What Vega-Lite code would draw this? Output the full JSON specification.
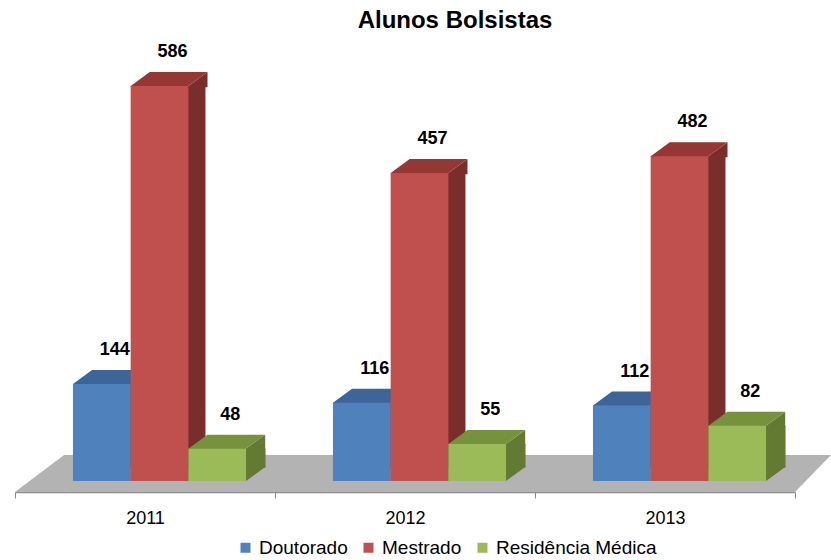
{
  "$schema": "https://vega.github.io/schema/vega-lite/v6.json",
  "width": 780,
  "height": 440,
  "autosize": {"type": "none"},
  "padding": {"left": 15, "top": 52, "right": 36, "bottom": 68},
  "background": "white",
  "config": {"view": {"stroke": null}, "font": "Liberation Sans"},
  "title": {"text": "Alunos Bolsistas", "fontSize": 24, "fontWeight": "bold", "font": "Liberation Sans", "color": "black", "anchor": "middle", "dx": 50, "offset": 10},
  "data": {"values": [
    {"year": "2011", "serie": "Doutorado", "value": 144},
    {"year": "2011", "serie": "Mestrado", "value": 586},
    {"year": "2011", "serie": "Residência Médica", "value": 48},
    {"year": "2012", "serie": "Doutorado", "value": 116},
    {"year": "2012", "serie": "Mestrado", "value": 457},
    {"year": "2012", "serie": "Residência Médica", "value": 55},
    {"year": "2013", "serie": "Doutorado", "value": 112},
    {"year": "2013", "serie": "Mestrado", "value": 482},
    {"year": "2013", "serie": "Residência Médica", "value": 82}
  ]},
  "resolve": {"scale": {"color": "independent", "xOffset": "independent"}},
  "layer": [
    {
      "data": {"values": [{"floor": "f"}]},
      "mark": {"type": "point", "shape": "M-0.975,0L0.975,0L1.065,-0.0925L-0.8525,-0.0925Z", "size": 640000, "filled": true, "opacity": 1, "strokeWidth": 0, "color": "#b3b3b3"},
      "encoding": {
        "y": {"datum": -16.32, "type": "quantitative", "scale": {"domain": [-16.32, 636.5], "nice": false, "zero": false}, "axis": null}
      }
    },
    {
      "mark": {"type": "bar", "y2Offset": -13.5},
      "encoding": {
        "x": {"field": "year", "type": "nominal", "scale": {"type": "band", "paddingInner": 0, "paddingOuter": 0},
              "axis": {"title": null, "labelAngle": 0, "labelFontSize": 18, "labelColor": "black", "domainColor": "#8c8c8c", "domainWidth": 1.5, "tickColor": "#8c8c8c", "tickBand": "extent", "tickSize": 6, "labelPadding": 11}},
        "xOffset": {"field": "serie", "type": "nominal", "sort": ["Doutorado", "Mestrado", "Residência Médica"], "scale": {"type": "band", "paddingInner": 0.6707, "paddingOuter": 1.0884, "align": 0.9212}},
        "y": {"field": "value", "type": "quantitative"},
        "y2": {"datum": 0},
        "color": {"field": "serie", "type": "nominal", "scale": {"domain": ["Doutorado", "Mestrado", "Residência Médica"], "range": ["#35588A", "#7A2E2C", "#627A31"]}, "legend": null}
      }
    },
    {
      "mark": {"type": "point", "shape": "M0.72,0L0.72,-0.375L1.2,-0.375L1.2,-0.35Z", "size": 6400, "filled": true, "opacity": 1, "strokeWidth": 0},
      "encoding": {
        "x": {"field": "year", "type": "nominal"},
        "xOffset": {"field": "serie", "type": "nominal", "sort": ["Doutorado", "Mestrado", "Residência Médica"], "scale": {"type": "band", "paddingInner": 0, "paddingOuter": 0.753, "align": 0.667}},
        "y": {"datum": 0, "type": "quantitative"},
        "color": {"field": "serie", "type": "nominal", "scale": {"domain": ["Doutorado", "Mestrado", "Residência Médica"], "range": ["#35588A", "#7A2E2C", "#627A31"]}, "legend": null}
      }
    },
    {
      "mark": {"type": "point", "shape": "M0.72,0.03L0.72,0L1.2,-0.35L1.2,0.03Z", "size": 6400, "filled": true, "opacity": 1, "strokeWidth": 0},
      "encoding": {
        "x": {"field": "year", "type": "nominal"},
        "xOffset": {"field": "serie", "type": "nominal", "sort": ["Doutorado", "Mestrado", "Residência Médica"], "scale": {"type": "band", "paddingInner": 0, "paddingOuter": 0.753, "align": 0.667}},
        "y": {"field": "value", "type": "quantitative"},
        "color": {"field": "serie", "type": "nominal", "scale": {"domain": ["Doutorado", "Mestrado", "Residência Médica"], "range": ["#35588A", "#7A2E2C", "#627A31"]}, "legend": null}
      }
    },
    {
      "mark": {"type": "point", "shape": "M-0.72,0.02L0.72,0.02L0.72,0L1.2,-0.35L-0.245,-0.35L-0.72,0Z", "size": 6400, "filled": true, "opacity": 1, "strokeWidth": 0},
      "encoding": {
        "x": {"field": "year", "type": "nominal"},
        "xOffset": {"field": "serie", "type": "nominal", "sort": ["Doutorado", "Mestrado", "Residência Médica"], "scale": {"type": "band", "paddingInner": 0, "paddingOuter": 0.753, "align": 0.667}},
        "y": {"field": "value", "type": "quantitative"},
        "color": {"field": "serie", "type": "nominal", "scale": {"domain": ["Doutorado", "Mestrado", "Residência Médica"], "range": ["#3C6599", "#953735", "#76923C"]}, "legend": null}
      }
    },
    {
      "mark": {"type": "bar"},
      "encoding": {
        "x": {"field": "year", "type": "nominal"},
        "xOffset": {"field": "serie", "type": "nominal", "sort": ["Doutorado", "Mestrado", "Residência Médica"], "scale": {"type": "band", "paddingInner": 0, "paddingOuter": 0.753, "align": 0.667}},
        "y": {"field": "value", "type": "quantitative"},
        "y2": {"datum": 0},
        "color": {"field": "serie", "type": "nominal", "scale": {"domain": ["Doutorado", "Mestrado", "Residência Médica"], "range": ["#4F81BD", "#C0504D", "#9BBB59"]},
                  "legend": {"orient": "none", "legendX": 221, "legendY": 486, "direction": "horizontal", "title": null, "symbolType": "square", "symbolSize": 100, "symbolStrokeWidth": 0, "labelFontSize": 19, "labelColor": "black", "labelOffset": 4, "columnPadding": 11, "padding": 0, "labelLimit": 400}}
      }
    },
    {
      "mark": {"type": "text", "dx": 13, "dy": -34, "fontSize": 18, "fontWeight": "bold", "color": "black", "baseline": "middle"},
      "encoding": {
        "x": {"field": "year", "type": "nominal"},
        "xOffset": {"field": "serie", "type": "nominal", "sort": ["Doutorado", "Mestrado", "Residência Médica"], "scale": {"type": "band", "paddingInner": 0, "paddingOuter": 0.753, "align": 0.667}},
        "y": {"field": "value", "type": "quantitative"},
        "text": {"field": "value", "type": "quantitative"}
      }
    }
  ]
}
